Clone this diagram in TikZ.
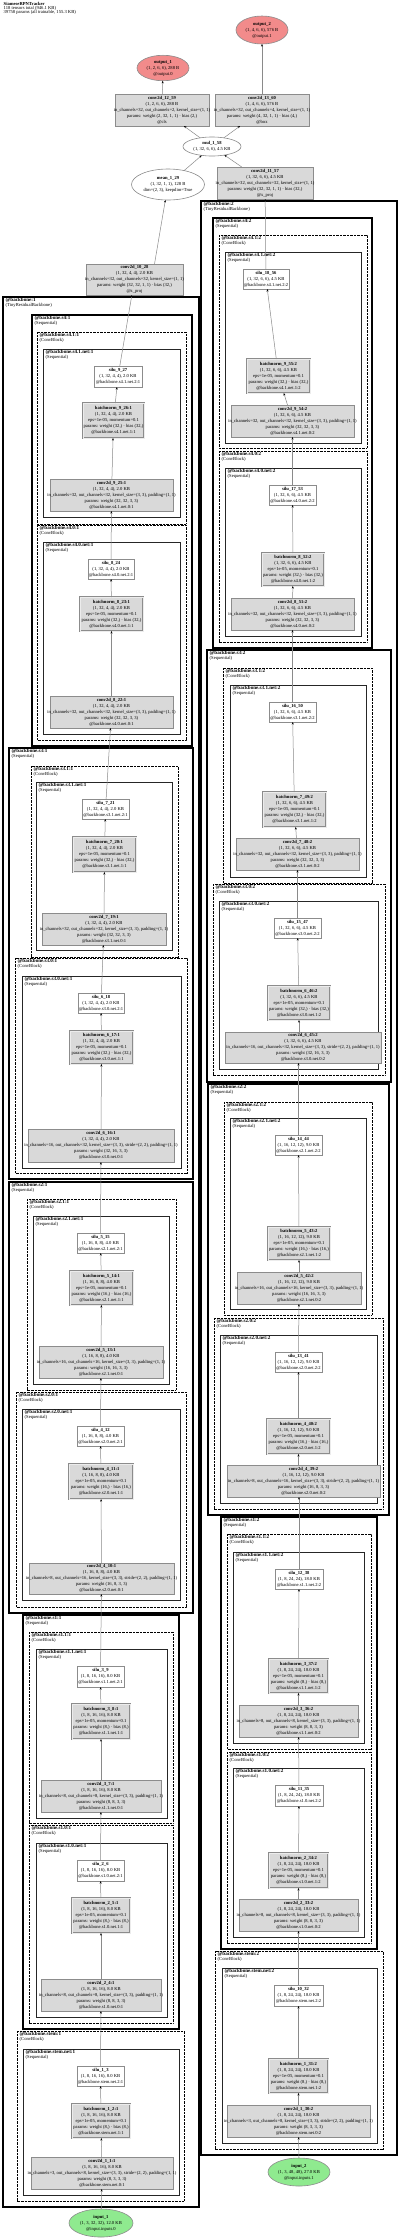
\documentclass[tikz,border=0pt]{standalone}
\usepackage{fontspec}
\setmainfont{Liberation Serif}
\usetikzlibrary{shapes.geometric,arrows.meta}
\definecolor{fillgray}{HTML}{D9D9D9}
\definecolor{boxgray}{HTML}{8C8C8C}
\definecolor{edgegray}{HTML}{8A8A8A}
\definecolor{outred}{HTML}{F28B8B}
\definecolor{ingreen}{HTML}{8FEA8F}
\newcommand\lbl[1]{\makebox[0pt]{\begin{tabular}{@{}c@{}}#1\end{tabular}}}
\newcommand\CV[5]{\lbl{\textbf{#1}\\#2\\#3\\params: weight #4\\#5}}
\newcommand\BN[4]{\lbl{\textbf{#1}\\#2\\eps=1e-05, momentum=0.1\\params: weight #3 · bias #3\\#4}}
\newcommand\SI[3]{\lbl{\textbf{#1}\\#2\\#3}}
\newcommand\pA{in\_channels=3, out\_channels=8, kernel\_size=(3, 3), stride=(2, 2), padding=(1, 1)}
\newcommand\pB{in\_channels=8, out\_channels=8, kernel\_size=(3, 3), padding=(1, 1)}
\newcommand\pC{in\_channels=8, out\_channels=16, kernel\_size=(3, 3), stride=(2, 2), padding=(1, 1)}
\newcommand\pD{in\_channels=16, out\_channels=16, kernel\_size=(3, 3), padding=(1, 1)}
\newcommand\pE{in\_channels=16, out\_channels=32, kernel\_size=(3, 3), stride=(2, 2), padding=(1, 1)}
\newcommand\pF{in\_channels=32, out\_channels=32, kernel\_size=(3, 3), padding=(1, 1)}
\newcommand\clus[8]{\draw[#1] (#3,#4) rectangle (#5,#6); \node[clabel] (#2) at (#3+2.5,#4+1) {{\fontsize{5.1}{4.8}\selectfont\textbf{#7}}\\#8};}
\tikzset{
  nd/.style={inner sep=0pt, outer sep=0pt, font=\fontsize{4.6}{6}\selectfont},
  convbox/.style={nd, rectangle, draw=boxgray, fill=fillgray, line width=0.6pt},
  bnbox/.style={nd, rectangle, draw=boxgray, fill=fillgray, line width=0.5pt, double=fillgray!50!white, double distance=0.8pt},
  silubox/.style={nd, rectangle, draw=boxgray, fill=white, line width=0.6pt},
  opell/.style={nd, ellipse, draw=boxgray, fill=white, line width=0.6pt},
  outell/.style={nd, ellipse, draw=boxgray, fill=outred, line width=0.6pt},
  inell/.style={nd, ellipse, draw=boxgray, fill=ingreen, line width=0.6pt},
  sz/.style 2 args={minimum width=#1pt, minimum height=#2pt},
  conn/.style={draw=edgegray, line width=0.5pt, -{Stealth[length=2.6pt,width=2pt,color=black]}},
  bbc/.style={draw=black, line width=1.8pt},
  seqc/.style={draw=black, line width=1.3pt},
  cbc/.style={draw=black, line width=1pt, dash pattern=on 0.7pt off 0.7pt},
  netc/.style={draw=black!85, line width=0.9pt},
  clabel/.style={anchor=north west, inner sep=0pt, align=left, font=\fontsize{4.6}{4.8}\selectfont},
}
\begin{document}
\begin{tikzpicture}[x=1pt,y=-1pt]
\fill[white] (0,0) rectangle (400,2239);
\useasboundingbox (0,0) rectangle (400,2239);
\node[anchor=north west, inner sep=0pt, align=left, font=\fontsize{4.6}{4.4}\selectfont] (title) at (3.5,1.8) {\textbf{SiameseRPNTracker}\\118 tensors total (946.1 KB)\\39758 params (all trainable, 155.3 KB)};
% clusters left
\clus{bbc}{cA}{3}{297}{199}{2207}{@backbone:1}{(TinyResidualBackbone)}
\clus{seqc}{cB}{32}{315}{192}{746}{@backbone.s4:1}{(Sequential)}
\clus{cbc}{cC}{37}{332}{186}{524}{@backbone.s4.1:1}{(ConvBlock)}
\clus{netc}{cD}{43}{349}{180}{517}{@backbone.s4.1.net:1}{(Sequential)}
\clus{cbc}{cE}{37}{525}{186}{740}{@backbone.s4.0:1}{(ConvBlock)}
\clus{netc}{cF}{43}{542}{180}{734}{@backbone.s4.0.net:1}{(Sequential)}
\clus{seqc}{cG}{9}{748}{193}{1179}{@backbone.s3:1}{(Sequential)}
\clus{cbc}{cH}{31}{766}{178}{957}{@backbone.s3.1:1}{(ConvBlock)}
\clus{netc}{cI}{36}{782}{172}{950}{@backbone.s3.1.net:1}{(Sequential)}
\clus{cbc}{cJ}{15}{958}{187}{1173}{@backbone.s3.0:1}{(ConvBlock)}
\clus{netc}{cK}{22}{976}{181}{1168}{@backbone.s3.0.net:1}{(Sequential)}
\clus{seqc}{cL}{9}{1182}{193}{1613}{@backbone.s2:1}{(Sequential)}
\clus{cbc}{cM}{27}{1199}{176}{1390}{@backbone.s2.1:1}{(ConvBlock)}
\clus{netc}{cN}{33}{1216}{169}{1384}{@backbone.s2.1.net:1}{(Sequential)}
\clus{cbc}{cO}{16}{1392}{186}{1607}{@backbone.s2.0:1}{(ConvBlock)}
\clus{netc}{cP}{22}{1409}{180}{1600}{@backbone.s2.0.net:1}{(Sequential)}
\clus{seqc}{cQ}{23}{1615}{179}{2029}{@backbone.s1:1}{(Sequential)}
\clus{cbc}{cR}{29}{1632}{173}{1823}{@backbone.s1.1:1}{(ConvBlock)}
\clus{netc}{cS}{36}{1649}{167}{1818}{@backbone.s1.1.net:1}{(Sequential)}
\clus{cbc}{cT}{29}{1825}{173}{2023}{@backbone.s1.0:1}{(ConvBlock)}
\clus{netc}{cU}{36}{1843}{167}{2017}{@backbone.s1.0.net:1}{(Sequential)}
\clus{cbc}{cV}{17}{2031}{184}{2201}{@backbone.stem:1}{(ConvBlock)}
\clus{netc}{cW}{23}{2049}{179}{2195}{@backbone.stem.net:1}{(Sequential)}
% clusters right
\clus{bbc}{dA}{201}{201}{397}{2155}{@backbone:2}{(TinyResidualBackbone)}
\clus{seqc}{dB}{213}{218}{372}{648}{@backbone.s4:2}{(Sequential)}
\clus{cbc}{dC}{219}{235}{367}{448}{@backbone.s4.1:2}{(ConvBlock)}
\clus{netc}{dD}{225}{252}{361}{443}{@backbone.s4.1.net:2}{(Sequential)}
\clus{cbc}{dE}{219}{451}{367}{642}{@backbone.s4.0:2}{(ConvBlock)}
\clus{netc}{dF}{225}{468}{361}{636}{@backbone.s4.0.net:2}{(Sequential)}
\clus{seqc}{dG}{207}{650}{391}{1082}{@backbone.s3:2}{(Sequential)}
\clus{cbc}{dH}{223}{668}{372}{883}{@backbone.s3.1:2}{(ConvBlock)}
\clus{netc}{dI}{230}{685}{366}{877}{@backbone.s3.1.net:2}{(Sequential)}
\clus{cbc}{dJ}{213}{884}{385}{1075}{@backbone.s3.0:2}{(ConvBlock)}
\clus{netc}{dK}{219}{901}{378}{1069}{@backbone.s3.0.net:2}{(Sequential)}
\clus{seqc}{dL}{208}{1084}{389}{1515}{@backbone.s2:2}{(Sequential)}
\clus{cbc}{dM}{224}{1102}{372}{1315}{@backbone.s2.1:2}{(ConvBlock)}
\clus{netc}{dN}{230}{1118}{366}{1309}{@backbone.s2.1.net:2}{(Sequential)}
\clus{cbc}{dO}{214}{1318}{383}{1509}{@backbone.s2.0:2}{(ConvBlock)}
\clus{netc}{dP}{220}{1335}{377}{1503}{@backbone.s2.0.net:2}{(Sequential)}
\clus{seqc}{dQ}{221}{1517}{377}{1949}{@backbone.s1:2}{(Sequential)}
\clus{cbc}{dR}{227}{1534}{371}{1749}{@backbone.s1.1:2}{(ConvBlock)}
\clus{netc}{dS}{233}{1552}{364}{1743}{@backbone.s1.1.net:2}{(Sequential)}
\clus{cbc}{dT}{227}{1752}{371}{1943}{@backbone.s1.0:2}{(ConvBlock)}
\clus{netc}{dU}{233}{1768}{364}{1937}{@backbone.s1.0.net:2}{(Sequential)}
\clus{cbc}{dV}{215}{1951}{383}{2149}{@backbone.stem:2}{(ConvBlock)}
\clus{netc}{dW}{222}{1968}{377}{2143}{@backbone.stem.net:2}{(Sequential)}
% top nodes
\node[outell, sz={52}{28}] (out2) at (262,30) {\lbl{\textbf{output\_2}\\(1, 4, 6, 6), 576 B\\@output.1}};
\node[outell, sz={52}{24}] (out1) at (163,68) {\lbl{\textbf{output\_1}\\(1, 2, 6, 6), 288 B\\@output.0}};
\node[convbox, sz={94}{32}] (c12) at (162,110) {\CV{conv2d\_12\_59}{(1, 2, 6, 6), 288 B}{in\_channels=32, out\_channels=2, kernel\_size=(1, 1)}{(2, 32, 1, 1) · bias (2,)}{@cls}};
\node[convbox, sz={94}{32}] (c13) at (262,110) {\CV{conv2d\_13\_60}{(1, 4, 6, 6), 576 B}{in\_channels=32, out\_channels=4, kernel\_size=(1, 1)}{(4, 32, 1, 1) · bias (4,)}{@box}};
\node[opell, sz={58}{19}] (mul) at (212,146.5) {\lbl{\textbf{mul\_1\_58}\\(1, 32, 6, 6), 4.5 KB}};
\node[opell, sz={73}{31}] (mean) at (168,184.5) {\lbl{\textbf{mean\_1\_29}\\(1, 32, 1, 1), 128 B\\dim=(2, 3), keepdim=True}};
\node[convbox, sz={96}{32}] (c11) at (265,183) {\CV{conv2d\_11\_57}{(1, 32, 6, 6), 4.5 KB}{in\_channels=32, out\_channels=32, kernel\_size=(1, 1)}{(32, 32, 1, 1) · bias (32,)}{@x\_proj}};
\node[convbox, sz={97}{31}] (c10) at (134.5,279.5) {\CV{conv2d\_10\_28}{(1, 32, 4, 4), 2.0 KB}{in\_channels=32, out\_channels=32, kernel\_size=(1, 1)}{(32, 32, 1, 1) · bias (32,)}{@z\_proj}};
% left chain
\node[silubox, sz={48}{21}] (L9s) at (118,376.5) {\SI{silu\_9\_27}{(1, 32, 4, 4), 2.0 KB}{@backbone.s4.1.net.2:1}};
\node[bnbox, sz={61}{35}] (L9b) at (113.5,420.5) {\BN{batchnorm\_9\_26:1}{(1, 32, 4, 4), 2.0 KB}{(32,)}{@backbone.s4.1.net.1:1}};
\node[convbox, sz={123}{32}] (L9c) at (111.5,495) {\CV{conv2d\_9\_25:1}{(1, 32, 4, 4), 2.0 KB}{\pF}{(32, 32, 3, 3)}{@backbone.s4.1.net.0:1}};
\node[silubox, sz={46}{20}] (L8s) at (111,569) {\SI{silu\_8\_24}{(1, 32, 4, 4), 2.0 KB}{@backbone.s4.0.net.2:1}};
\node[bnbox, sz={63}{34}] (L8b) at (111.5,614) {\BN{batchnorm\_8\_23:1}{(1, 32, 4, 4), 2.0 KB}{(32,)}{@backbone.s4.0.net.1:1}};
\node[convbox, sz={123}{32}] (L8c) at (111.5,712) {\CV{conv2d\_8\_22:1}{(1, 32, 4, 4), 2.0 KB}{\pF}{(32, 32, 3, 3)}{@backbone.s4.0.net.0:1}};
\node[silubox, sz={47}{20}] (L7s) at (105.5,809) {\SI{silu\_7\_21}{(1, 32, 4, 4), 2.0 KB}{@backbone.s3.1.net.2:1}};
\node[bnbox, sz={63}{35}] (L7b) at (104.5,854.5) {\BN{batchnorm\_7\_20:1}{(1, 32, 4, 4), 2.0 KB}{(32,)}{@backbone.s3.1.net.1:1}};
\node[convbox, sz={124}{32}] (L7c) at (104,929) {\CV{conv2d\_7\_19:1}{(1, 32, 4, 4), 2.0 KB}{\pF}{(32, 32, 3, 3)}{@backbone.s3.1.net.0:1}};
\node[silubox, sz={46}{20}] (L6s) at (101,1003) {\SI{silu\_6\_18}{(1, 32, 4, 4), 2.0 KB}{@backbone.s3.0.net.2:1}};
\node[bnbox, sz={63}{33}] (L6b) at (101.5,1047.5) {\BN{batchnorm\_6\_17:1}{(1, 32, 4, 4), 2.0 KB}{(32,)}{@backbone.s3.0.net.1:1}};
\node[convbox, sz={146}{33}] (L6c) at (101,1145.5) {\CV{conv2d\_6\_16:1}{(1, 32, 4, 4), 2.0 KB}{\pE}{(32, 16, 3, 3)}{@backbone.s3.0.net.0:1}};
\node[silubox, sz={47}{20}] (L5s) at (100.5,1243) {\SI{silu\_5\_15}{(1, 16, 8, 8), 4.0 KB}{@backbone.s2.1.net.2:1}};
\node[bnbox, sz={63}{34}] (L5b) at (101.5,1288) {\BN{batchnorm\_5\_14:1}{(1, 16, 8, 8), 4.0 KB}{(16,)}{@backbone.s2.1.net.1:1}};
\node[convbox, sz={124}{32}] (L5c) at (101,1362) {\CV{conv2d\_5\_13:1}{(1, 16, 8, 8), 4.0 KB}{\pD}{(16, 16, 3, 3)}{@backbone.s2.1.net.0:1}};
\node[silubox, sz={47}{20}] (L4s) at (100.5,1436) {\SI{silu\_4\_12}{(1, 16, 8, 8), 4.0 KB}{@backbone.s2.0.net.2:1}};
\node[bnbox, sz={64}{35}] (L4b) at (101,1481.5) {\BN{batchnorm\_4\_11:1}{(1, 16, 8, 8), 4.0 KB}{(16,)}{@backbone.s2.0.net.1:1}};
\node[convbox, sz={145}{31}] (L4c) at (101.5,1578.5) {\CV{conv2d\_4\_10:1}{(1, 16, 8, 8), 4.0 KB}{\pC}{(16, 8, 3, 3)}{@backbone.s2.0.net.0:1}};
\node[silubox, sz={47}{21}] (L3s) at (100.5,1676.5) {\SI{silu\_3\_9}{(1, 8, 16, 16), 8.0 KB}{@backbone.s1.1.net.2:1}};
\node[bnbox, sz={58}{35}] (L3b) at (101,1721.5) {\BN{batchnorm\_3\_8:1}{(1, 8, 16, 16), 8.0 KB}{(8,)}{@backbone.s1.1.net.1:1}};
\node[convbox, sz={120}{32}] (L3c) at (101,1796) {\CV{conv2d\_3\_7:1}{(1, 8, 16, 16), 8.0 KB}{\pB}{(8, 8, 3, 3)}{@backbone.s1.1.net.0:1}};
\node[silubox, sz={47}{21}] (L2s) at (100.5,1870.5) {\SI{silu\_2\_6}{(1, 8, 16, 16), 8.0 KB}{@backbone.s1.0.net.2:1}};
\node[bnbox, sz={58}{35}] (L2b) at (101,1915.5) {\BN{batchnorm\_2\_5:1}{(1, 8, 16, 16), 8.0 KB}{(8,)}{@backbone.s1.0.net.1:1}};
\node[convbox, sz={120}{32}] (L2c) at (101,1995) {\CV{conv2d\_2\_4:1}{(1, 8, 16, 16), 8.0 KB}{\pB}{(8, 8, 3, 3)}{@backbone.s1.0.net.0:1}};
\node[silubox, sz={47}{20}] (L1s) at (100.5,2076) {\SI{silu\_1\_3}{(1, 8, 16, 16), 8.0 KB}{@backbone.stem.net.2:1}};
\node[bnbox, sz={58}{34}] (L1b) at (101,2121) {\BN{batchnorm\_1\_2:1}{(1, 8, 16, 16), 8.0 KB}{(8,)}{@backbone.stem.net.1:1}};
\node[convbox, sz={142}{32}] (L1c) at (102,2173) {\CV{conv2d\_1\_1:1}{(1, 8, 16, 16), 8.0 KB}{\pA}{(8, 3, 3, 3)}{@backbone.stem.net.0:1}};
\node[inell, sz={64}{28}] (in1) at (101,2223) {\lbl{\textbf{input\_1}\\(1, 3, 32, 32), 12.0 KB\\@input.inputs.0}};
% right chain
\node[silubox, sz={46}{20}] (R9s) at (266,279) {\SI{silu\_18\_56}{(1, 32, 6, 6), 4.5 KB}{@backbone.s4.1.net.2:2}};
\node[bnbox, sz={63}{34}] (R9b) at (278.5,376) {\BN{batchnorm\_9\_55:2}{(1, 32, 6, 6), 4.5 KB}{(32,)}{@backbone.s4.1.net.1:2}};
\node[convbox, sz={123}{32}] (R9c) at (292.5,421) {\CV{conv2d\_9\_54:2}{(1, 32, 6, 6), 4.5 KB}{\pF}{(32, 32, 3, 3)}{@backbone.s4.1.net.0:2}};
\node[silubox, sz={47}{20}] (R8s) at (292.5,495) {\SI{silu\_17\_53}{(1, 32, 6, 6), 4.5 KB}{@backbone.s4.0.net.2:2}};
\node[bnbox, sz={62}{33}] (R8b) at (293,569.5) {\BN{batchnorm\_8\_52:2}{(1, 32, 6, 6), 4.5 KB}{(32,)}{@backbone.s4.0.net.1:2}};
\node[convbox, sz={123}{32}] (R8c) at (292.5,614) {\CV{conv2d\_8\_51:2}{(1, 32, 6, 6), 4.5 KB}{\pF}{(32, 32, 3, 3)}{@backbone.s4.0.net.0:2}};
\node[silubox, sz={47}{20}] (R7s) at (292.5,712) {\SI{silu\_16\_50}{(1, 32, 6, 6), 4.5 KB}{@backbone.s3.1.net.2:2}};
\node[bnbox, sz={63}{35}] (R7b) at (294.5,809.5) {\BN{batchnorm\_7\_49:2}{(1, 32, 6, 6), 4.5 KB}{(32,)}{@backbone.s3.1.net.1:2}};
\node[convbox, sz={123}{32}] (R7c) at (297.5,854) {\CV{conv2d\_7\_48:2}{(1, 32, 6, 6), 4.5 KB}{\pF}{(32, 32, 3, 3)}{@backbone.s3.1.net.0:2}};
\node[silubox, sz={47}{20}] (R6s) at (297.5,928) {\SI{silu\_15\_47}{(1, 32, 6, 6), 4.5 KB}{@backbone.s3.0.net.2:2}};
\node[bnbox, sz={62}{34}] (R6b) at (299,1003) {\BN{batchnorm\_6\_46:2}{(1, 32, 6, 6), 4.5 KB}{(32,)}{@backbone.s3.0.net.1:2}};
\node[convbox, sz={156}{31}] (R6c) at (303,1047.5) {\CV{conv2d\_6\_45:2}{(1, 32, 6, 6), 4.5 KB}{\pE}{(32, 16, 3, 3)}{@backbone.s3.0.net.0:2}};
\node[silubox, sz={47}{20}] (R5s) at (298.5,1145) {\SI{silu\_14\_44}{(1, 16, 12, 12), 9.0 KB}{@backbone.s2.1.net.2:2}};
\node[bnbox, sz={62}{33}] (R5b) at (299,1243.5) {\BN{batchnorm\_5\_43:2}{(1, 16, 12, 12), 9.0 KB}{(16,)}{@backbone.s2.1.net.1:2}};
\node[convbox, sz={124}{32}] (R5c) at (299,1288) {\CV{conv2d\_5\_42:2}{(1, 16, 12, 12), 9.0 KB}{\pD}{(16, 16, 3, 3)}{@backbone.s2.1.net.0:2}};
\node[silubox, sz={47}{20}] (R4s) at (298.5,1362) {\SI{silu\_13\_41}{(1, 16, 12, 12), 9.0 KB}{@backbone.s2.0.net.2:2}};
\node[bnbox, sz={63}{35}] (R4b) at (298.5,1436.5) {\BN{batchnorm\_4\_40:2}{(1, 16, 12, 12), 9.0 KB}{(16,)}{@backbone.s2.0.net.1:2}};
\node[convbox, sz={153}{32}] (R4c) at (303.5,1481) {\CV{conv2d\_4\_39:2}{(1, 16, 12, 12), 9.0 KB}{\pC}{(16, 8, 3, 3)}{@backbone.s2.0.net.0:2}};
\node[silubox, sz={48}{20}] (R3s) at (299,1579) {\SI{silu\_12\_38}{(1, 8, 24, 24), 18.0 KB}{@backbone.s1.1.net.2:2}};
\node[bnbox, sz={59}{34}] (R3b) at (298.5,1676) {\BN{batchnorm\_3\_37:2}{(1, 8, 24, 24), 18.0 KB}{(8,)}{@backbone.s1.1.net.1:2}};
\node[convbox, sz={119}{32}] (R3c) at (298.5,1721) {\CV{conv2d\_3\_36:2}{(1, 8, 24, 24), 18.0 KB}{\pB}{(8, 8, 3, 3)}{@backbone.s1.1.net.0:2}};
\node[silubox, sz={48}{21}] (R2s) at (299,1795.5) {\SI{silu\_11\_35}{(1, 8, 24, 24), 18.0 KB}{@backbone.s1.0.net.2:2}};
\node[bnbox, sz={59}{35}] (R2b) at (298.5,1870.5) {\BN{batchnorm\_2\_34:2}{(1, 8, 24, 24), 18.0 KB}{(8,)}{@backbone.s1.0.net.1:2}};
\node[convbox, sz={119}{32}] (R2c) at (298.5,1915) {\CV{conv2d\_2\_33:2}{(1, 8, 24, 24), 18.0 KB}{\pB}{(8, 8, 3, 3)}{@backbone.s1.0.net.0:2}};
\node[silubox, sz={49}{21}] (R1s) at (298.5,1995.5) {\SI{silu\_10\_32}{(1, 8, 24, 24), 18.0 KB}{@backbone.stem.net.2:2}};
\node[bnbox, sz={59}{34}] (R1b) at (298.5,2076) {\BN{batchnorm\_1\_31:2}{(1, 8, 24, 24), 18.0 KB}{(8,)}{@backbone.stem.net.1:2}};
\node[convbox, sz={143}{32}] (R1c) at (298.5,2121) {\CV{conv2d\_1\_30:2}{(1, 8, 24, 24), 18.0 KB}{\pA}{(8, 3, 3, 3)}{@backbone.stem.net.0:2}};
\node[inell, sz={62}{28}] (in2) at (299,2172) {\lbl{\textbf{input\_2}\\(1, 3, 48, 48), 27.0 KB\\@input.inputs.1}};
% connectors
\foreach \a/\b in {in1/L1c, L1c/L1b, L1b/L1s, L1s/L2c, L2c/L2b, L2b/L2s, L2s/L3c, L3c/L3b, L3b/L3s, L3s/L4c, L4c/L4b, L4b/L4s, L4s/L5c, L5c/L5b, L5b/L5s, L5s/L6c, L6c/L6b, L6b/L6s, L6s/L7c, L7c/L7b, L7b/L7s, L7s/L8c, L8c/L8b, L8b/L8s, L8s/L9c, L9c/L9b, L9b/L9s, L9s/c10, mean/mul, c11/mul, mul/c12, mul/c13, c12/out1, c13/out2, in2/R1c, R1c/R1b, R1b/R1s, R1s/R2c, R2c/R2b, R2b/R2s, R2s/R3c, R3c/R3b, R3b/R3s, R4b/R4s, R4s/R5c, R5c/R5b, R5b/R5s, R6b/R6s, R6s/R7c, R7c/R7b, R7b/R7s, R7s/R8c, R8c/R8b, R8b/R8s, R8s/R9c, R9c/R9b, R9b/R9s, R9s/c11}
  \draw[conn] (\a) -- (\b);
\draw[conn] (R3s) -- (R3s |- R4c.south);
\draw[conn] (R4c.north -| R4b) -- (R4b);
\draw[conn] (R5s) -- (R5s |- R6c.south);
\draw[conn] (R6c.north -| R6b) -- (R6b);
\draw[conn] ([xshift=20pt]c10.north) -- (mean);
\end{tikzpicture}
\end{document}
